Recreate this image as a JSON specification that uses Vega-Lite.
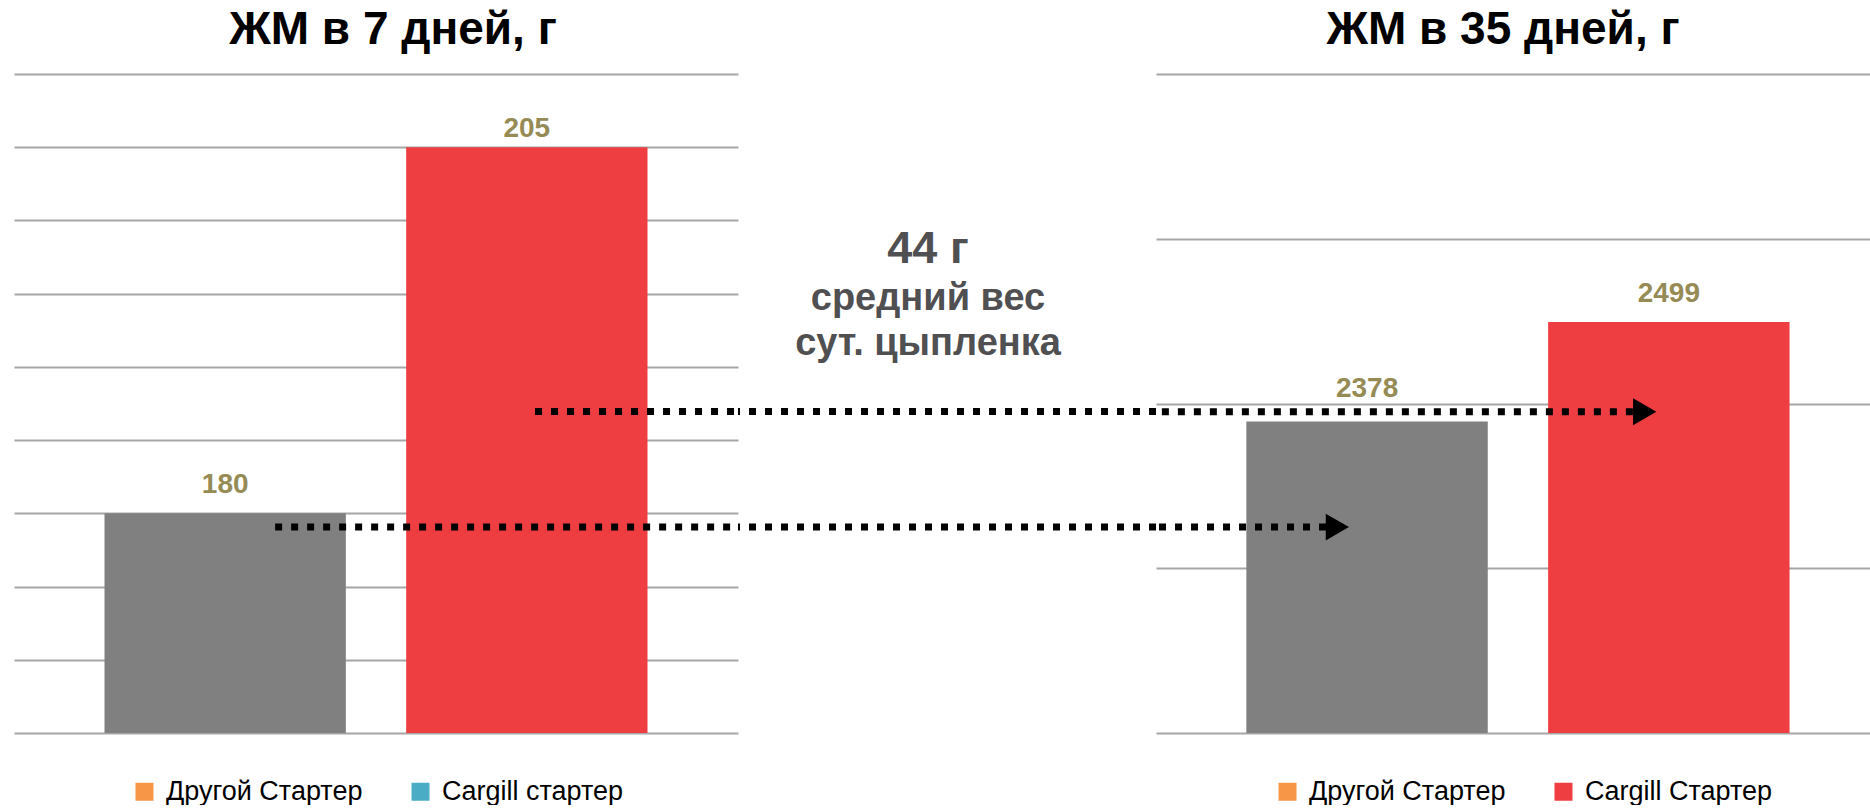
{
  "$schema": "https://vega.github.io/schema/vega-lite/v6.json",
  "padding": {"left": 14, "top": 7, "right": 0, "bottom": 0},
  "spacing": 0,
  "bounds": "flush",
  "config": {
    "view": {"stroke": null},
    "font": "Liberation Sans",
    "title": {"fontSize": 46, "fontWeight": "bold", "color": "#000000", "font": "Liberation Sans", "offset": 20},
    "legend": {
      "orient": "none",
      "direction": "horizontal",
      "title": null,
      "symbolType": "square",
      "symbolSize": 324,
      "symbolStrokeWidth": 0,
      "symbolOpacity": 1,
      "labelFont": "Liberation Sans",
      "labelFontSize": 27,
      "labelColor": "#000000",
      "labelLimit": 500,
      "labelOffset": 8,
      "columnPadding": 44,
      "legendX": 117,
      "legendY": 704
    },
    "axisY": {
      "grid": true,
      "gridColor": "#a6a6a6",
      "gridWidth": 2,
      "labels": false,
      "ticks": false,
      "domain": false,
      "title": null
    }
  },
  "datasets": {
    "bars7": [
      {"starter": "Другой Стартер", "weight": 180},
      {"starter": "Cargill стартер", "weight": 205}
    ],
    "bars35": [
      {"starter": "Другой Стартер", "weight": 2378},
      {"starter": "Cargill Стартер", "weight": 2499}
    ],
    "arrows7": [
      {"starter": "Другой Стартер", "level": 179.07},
      {"starter": "Cargill стартер", "level": 186.95}
    ],
    "arrows35": [
      {"starter": "Другой Стартер", "level": 2250},
      {"starter": "Cargill Стартер", "level": 2390}
    ],
    "note": [
      {"line": "44 г", "level": 197.1, "kind": "head"},
      {"line": "средний вес", "level": 193.9, "kind": "sub"},
      {"line": "сут. цыпленка", "level": 190.8, "kind": "sub"}
    ]
  },
  "resolve": {
    "scale": {"x": "independent", "y": "independent", "color": "independent"},
    "legend": {"color": "independent"}
  },
  "hconcat": [
    {
      "width": 724,
      "height": 659,
      "title": {"text": "ЖМ в 7 дней, г", "dx": 17},
      "encoding": {
        "x": {
          "field": "starter",
          "type": "nominal",
          "sort": null,
          "axis": null,
          "scale": {"domain": ["Другой Стартер", "Cargill стартер"], "paddingInner": 0.2, "paddingOuter": 0.3}
        }
      },
      "layer": [
        {
          "data": {"name": "bars7"},
          "mark": {"type": "bar"},
          "encoding": {
            "y": {
              "field": "weight",
              "type": "quantitative",
              "scale": {"domain": [165, 210], "nice": false, "zero": false},
              "axis": {"values": [165, 170, 175, 180, 185, 190, 195, 200, 205, 210]}
            },
            "y2": {"datum": 165},
            "color": {
              "condition": {"test": "datum.starter === 'Другой Стартер'", "value": "#808080"},
              "value": "#ef3e42"
            }
          }
        },
        {
          "data": {"name": "bars7"},
          "mark": {"type": "square", "opacity": 0},
          "encoding": {
            "y": {"field": "weight", "type": "quantitative"},
            "color": {
              "field": "starter",
              "type": "nominal",
              "sort": null,
              "scale": {"domain": ["Другой Стартер", "Cargill стартер"], "range": ["#f79646", "#4bacc6"]},
              "legend": {}
            }
          }
        },
        {
          "data": {"name": "arrows7"},
          "transform": [{"filter": "datum.starter === 'Другой Стартер'"}],
          "mark": {"type": "rule", "color": "#000000", "strokeWidth": 7, "strokeDash": [7, 9]},
          "encoding": {
            "x": {"field": "starter", "type": "nominal", "bandPosition": 0.707},
            "x2": {"value": "width"},
            "y": {"field": "level", "type": "quantitative"}
          }
        },
        {
          "data": {"name": "arrows7"},
          "transform": [{"filter": "datum.starter !== 'Другой Стартер'"}],
          "mark": {"type": "rule", "color": "#000000", "strokeWidth": 7, "strokeDash": [7, 9]},
          "encoding": {
            "x": {"field": "starter", "type": "nominal", "bandPosition": 0.534},
            "x2": {"value": "width"},
            "y": {"field": "level", "type": "quantitative"}
          }
        },
        {
          "data": {"name": "bars7"},
          "transform": [{"filter": "datum.starter === 'Другой Стартер'"}],
          "mark": {"type": "text", "baseline": "alphabetic", "dy": -20, "fontSize": 28, "fontWeight": "bold", "color": "#968b55"},
          "encoding": {
            "y": {"field": "weight", "type": "quantitative"},
            "text": {"field": "weight", "type": "quantitative"}
          }
        },
        {
          "data": {"name": "bars7"},
          "transform": [{"filter": "datum.starter !== 'Другой Стартер'"}],
          "mark": {"type": "text", "baseline": "alphabetic", "dy": -10, "fontSize": 28, "fontWeight": "bold", "color": "#968b55"},
          "encoding": {
            "y": {"field": "weight", "type": "quantitative"},
            "text": {"field": "weight", "type": "quantitative"}
          }
        }
      ]
    },
    {
      "width": 418,
      "height": 659,
      "title": {"text": " "},
      "layer": [
        {
          "data": {"name": "arrows7"},
          "mark": {"type": "rule", "color": "#000000", "strokeWidth": 7, "strokeDash": [7, 9]},
          "encoding": {
            "y": {"field": "level", "type": "quantitative", "scale": {"domain": [165, 210], "nice": false, "zero": false}, "axis": null}
          }
        },
        {
          "data": {"name": "note"},
          "transform": [{"filter": "datum.kind === 'head'"}],
          "mark": {"type": "text", "baseline": "alphabetic", "dx": -19, "fontSize": 45, "fontWeight": "bold", "color": "#505052"},
          "encoding": {
            "y": {"field": "level", "type": "quantitative"},
            "text": {"field": "line"}
          }
        },
        {
          "data": {"name": "note"},
          "transform": [{"filter": "datum.kind === 'sub'"}],
          "mark": {"type": "text", "baseline": "alphabetic", "dx": -19, "fontSize": 38, "fontWeight": "bold", "color": "#505052"},
          "encoding": {
            "y": {"field": "level", "type": "quantitative"},
            "text": {"field": "line"}
          }
        }
      ]
    },
    {
      "width": 714,
      "height": 659,
      "title": {"text": "ЖМ в 35 дней, г", "dx": -10},
      "encoding": {
        "x": {
          "field": "starter",
          "type": "nominal",
          "sort": null,
          "axis": null,
          "scale": {"domain": ["Другой Стартер", "Cargill Стартер"], "paddingInner": 0.2, "paddingOuter": 0.283, "align": 0.529}
        }
      },
      "layer": [
        {
          "data": {"name": "bars35"},
          "mark": {"type": "bar"},
          "encoding": {
            "y": {
              "field": "weight",
              "type": "quantitative",
              "scale": {"domain": [2000, 2800], "nice": false, "zero": false},
              "axis": {"values": [2000, 2200, 2400, 2600, 2800]}
            },
            "y2": {"datum": 2000},
            "color": {
              "condition": {"test": "datum.starter === 'Другой Стартер'", "value": "#808080"},
              "value": "#ef3e42"
            }
          }
        },
        {
          "data": {"name": "bars35"},
          "mark": {"type": "square", "opacity": 0},
          "encoding": {
            "y": {"field": "weight", "type": "quantitative"},
            "color": {
              "field": "starter",
              "type": "nominal",
              "sort": null,
              "scale": {"domain": ["Другой Стартер", "Cargill Стартер"], "range": ["#f79646", "#ef3e42"]},
              "legend": {"legendX": 118}
            }
          }
        },
        {
          "data": {"name": "arrows35"},
          "transform": [{"filter": "datum.starter === 'Другой Стартер'"}],
          "mark": {"type": "rule", "color": "#000000", "strokeWidth": 7, "strokeDash": [7, 9]},
          "encoding": {
            "x": {"field": "starter", "type": "nominal", "bandPosition": 0.33},
            "x2": {"value": 0},
            "y": {"field": "level", "type": "quantitative"}
          }
        },
        {
          "data": {"name": "arrows35"},
          "transform": [{"filter": "datum.starter !== 'Другой Стартер'"}],
          "mark": {"type": "rule", "color": "#000000", "strokeWidth": 7, "strokeDash": [7, 9]},
          "encoding": {
            "x": {"field": "starter", "type": "nominal", "bandPosition": 0.351},
            "x2": {"value": 0},
            "y": {"field": "level", "type": "quantitative"}
          }
        },
        {
          "data": {"name": "arrows35"},
          "transform": [{"filter": "datum.starter === 'Другой Стартер'"}],
          "mark": {"type": "point", "shape": "triangle-right", "filled": true, "color": "#000000", "opacity": 1, "size": 720},
          "encoding": {
            "x": {"field": "starter", "type": "nominal", "bandPosition": 0.377},
            "y": {"field": "level", "type": "quantitative"}
          }
        },
        {
          "data": {"name": "arrows35"},
          "transform": [{"filter": "datum.starter !== 'Другой Стартер'"}],
          "mark": {"type": "point", "shape": "triangle-right", "filled": true, "color": "#000000", "opacity": 1, "size": 720},
          "encoding": {
            "x": {"field": "starter", "type": "nominal", "bandPosition": 0.4},
            "y": {"field": "level", "type": "quantitative"}
          }
        },
        {
          "data": {"name": "bars35"},
          "transform": [{"filter": "datum.starter === 'Другой Стартер'"}],
          "mark": {"type": "text", "baseline": "alphabetic", "dy": -25, "fontSize": 28, "fontWeight": "bold", "color": "#968b55"},
          "encoding": {
            "y": {"field": "weight", "type": "quantitative"},
            "text": {"field": "weight", "type": "quantitative"}
          }
        },
        {
          "data": {"name": "bars35"},
          "transform": [{"filter": "datum.starter !== 'Другой Стартер'"}],
          "mark": {"type": "text", "baseline": "alphabetic", "dy": -20, "fontSize": 28, "fontWeight": "bold", "color": "#968b55"},
          "encoding": {
            "y": {"field": "weight", "type": "quantitative"},
            "text": {"field": "weight", "type": "quantitative"}
          }
        }
      ]
    }
  ]
}
